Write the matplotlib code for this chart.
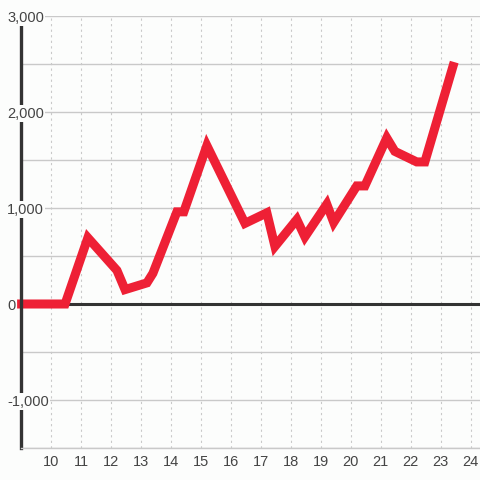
import matplotlib
matplotlib.use("Agg")
import matplotlib.pyplot as plt
from matplotlib.ticker import FuncFormatter

# values
hours = [8.87, 10.47, 11.23, 12.2, 12.47, 13.2, 13.4, 14.2, 14.43, 15.2, 16.47,
         17.2, 17.47, 18.2, 18.47, 19.2, 19.43, 20.2, 20.47, 21.2, 21.47,
         22.2, 22.47, 23.45]
totals = [0, 0, 690, 350, 150, 220, 320, 960, 960, 1650, 840,
          950, 600, 880, 700, 1040, 850, 1230, 1230, 1730, 1590,
          1480, 1480, 2520]
x_ticks = list(range(10, 25))
y_ticks = [-1500, -1000, -500, 0, 500, 1000, 1500, 2000, 2500, 3000]
y_labels = [-1000, 0, 1000, 2000, 3000]

bg = "#fcfdfc"
red = "#ee2035"
dark = "#333333"
grid = "#c9c9c9"

plt.rcParams['font.family'] = ['Liberation Sans', 'DejaVu Sans']
fig = plt.figure(figsize=(4.8, 4.8), dpi=100, facecolor=bg)
ax = fig.add_axes([21 / 480, 32 / 480, 459 / 480, 432 / 480], facecolor=bg)

ax.set_xlim(9.0, 24.31)
ax.set_ylim(-1500, 3000)

ax.set_axisbelow(True)
ax.xaxis.grid(True, color=grid, linestyle=(0, (2, 3)), linewidth=0.8)
ax.hlines(y_ticks, 9.0, 24.31, color=grid, linewidth=1.0, zorder=1)
ax.axhline(0, color=dark, linewidth=2.2, zorder=1.8)

ax.plot(hours, totals, color=red, linewidth=6.5, solid_joinstyle='miter',
        solid_capstyle='butt', zorder=2, clip_on=False)

for s in ['top', 'right']:
    ax.spines[s].set_visible(False)
ax.spines['bottom'].set_color(grid)
ax.spines['bottom'].set_linewidth(1.0)
ax.spines['left'].set_color(dark)
ax.spines['left'].set_linewidth(2.4)
ax.spines['left'].set_zorder(2.5)

ax.set_xticks(x_ticks)
ax.set_yticks(y_labels)
ax.yaxis.set_major_formatter(FuncFormatter(lambda v, p: f"{int(v):,}"))
ax.tick_params(axis='x', length=0, pad=5, labelsize=10.5, labelcolor='#444444')
ax.tick_params(axis='y', length=0, pad=10, labelsize=10.5, labelcolor='#444444')
ax.yaxis.set_zorder(3)
for lbl in ax.get_yticklabels():
    lbl.set_horizontalalignment('left')
    lbl.set_bbox(dict(facecolor=bg, edgecolor='none', pad=1.0))

fig.savefig("out.png", dpi=100, facecolor=bg)
